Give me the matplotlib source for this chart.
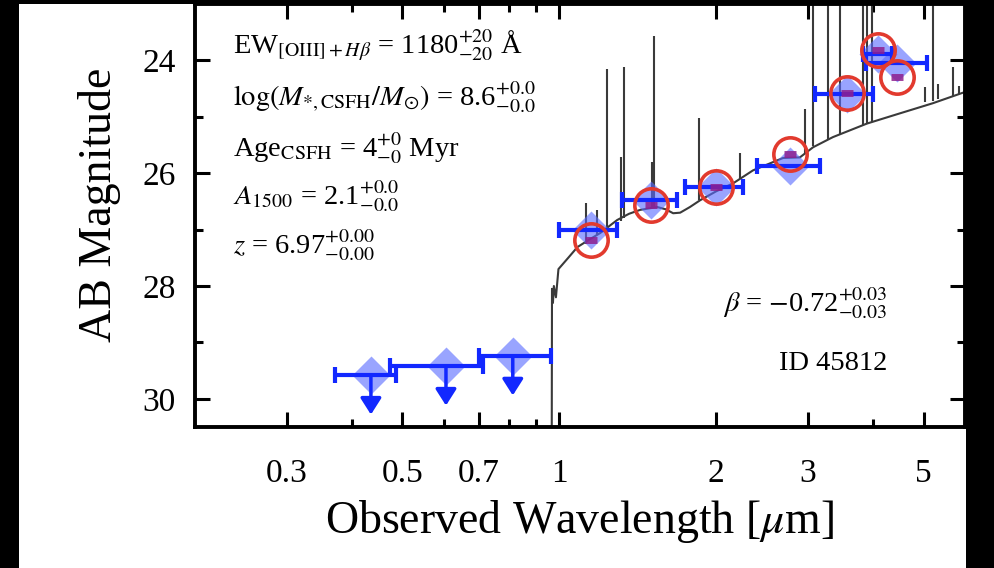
import matplotlib
matplotlib.use("Agg")
import matplotlib.pyplot as plt
from matplotlib.patches import Rectangle
from matplotlib.ticker import FixedLocator, NullFormatter, FixedFormatter

plt.rcParams['font.family'] = 'serif'
plt.rcParams['font.serif'] = ['Liberation Serif', 'DejaVu Serif']
plt.rcParams['mathtext.fontset'] = 'stix'

# model spectrum continuum (um, AB mag)
cont_wl = [0.20, 0.966, 0.968, 0.972, 0.976, 0.985, 0.996, 1.04, 1.083, 1.14, 1.198,
           1.291, 1.36, 1.429, 1.541, 1.60, 1.653, 1.705, 1.78, 1.862, 2.0, 2.154,
           2.352, 2.686, 2.893, 3.067, 3.348, 3.891, 4.497, 5.203, 6.0]
cont_mag = [33.0, 33.0, 28.05, 28.3, 28.0, 28.2, 27.7, 27.5, 27.31, 27.18, 27.06,
            26.83, 26.72, 26.65, 26.6, 26.64, 26.71, 26.70, 26.6, 26.48, 26.32, 26.18,
            25.95, 25.73, 25.72, 25.54, 25.36, 25.12, 24.94, 24.76, 24.56]

# emission lines: wavelength, continuum base, peak
line_wl = [1.127, 1.182, 1.236, 1.315, 1.332, 1.507, 1.520, 1.854, 2.222, 2.959,
           3.066, 3.276, 3.452, 3.822, 3.891, 3.978, 5.02, 5.205, 5.32, 5.686, 5.84]
line_base = [27.25, 27.1, 26.98, 26.84, 26.8, 26.62, 26.62, 26.48, 26.1, 25.65,
             25.52, 25.4, 25.3, 25.15, 25.12, 25.1, 24.74, 24.72, 24.68, 24.63, 24.6]
line_top = [26.53, 26.65, 24.16, 25.72, 24.12, 25.8, 23.56, 25.02, 25.65, 24.86,
            22.5, 22.5, 22.5, 22.5, 22.5, 22.5, 24.48, 22.5, 24.42, 24.12, 24.45]

# photometry
filt_wl = [0.435, 0.606, 0.814, 1.15, 1.50, 2.00, 2.77, 3.57, 4.08, 4.44]
filt_lo = [0.372, 0.474, 0.70, 1.00, 1.32, 1.74, 2.39, 3.09, 3.83, 3.88]
filt_hi = [0.487, 0.715, 0.965, 1.29, 1.68, 2.25, 3.16, 4.00, 4.35, 5.07]
obs_mag = [29.58, 29.42, 29.24, 27.01, 26.48, 26.24, 25.88, 24.60, 23.88, 24.05]
is_limit = [True, True, True, False, False, False, False, False, False, False]
model_mag = [None, None, None, 27.19, 26.57, 26.24, 25.66, 24.58, 23.82, 24.30]

fig = plt.figure(figsize=(9.94, 5.68), dpi=100)
fig.patch.set_facecolor('black')
fig.add_artist(Rectangle((19/994, 0), 947/994, 564/568, transform=fig.transFigure,
                         facecolor='white', edgecolor='none', zorder=-10))
ax = fig.add_axes([195/994, 141/568, 770/994, 423/568])

blue = '#1228ff'
ax.plot(cont_wl, cont_mag, color='#3a3a3a', lw=1.5, zorder=2)
ax.vlines(line_wl, line_base, line_top, color='#3a3a3a', lw=1.5, zorder=2)

for i in range(len(filt_wl)):
    x, m = filt_wl[i], obs_mag[i]
    ax.plot(x, m, 'D', ms=19, color='#5a6cff', alpha=0.62, mec='none', zorder=3)
    ax.errorbar(x, m, xerr=[[x - filt_lo[i]], [filt_hi[i] - x]], fmt='none',
                ecolor=blue, elinewidth=3, capsize=6, capthick=3, zorder=4)
    if is_limit[i]:
        ax.annotate('', xy=(x, m + 0.7), xytext=(x, m),
                    arrowprops=dict(arrowstyle='-|>,head_width=0.35,head_length=0.55',
                                    color=blue, lw=2.5, mutation_scale=18,
                                    shrinkA=0, shrinkB=0), zorder=4)
    else:
        ax.plot(x, model_mag[i], '_', ms=9, mew=5, color='#8e1f8e', alpha=0.85, zorder=5)
        ax.plot(x, model_mag[i], 'o', ms=24, mfc='none', mec='#e23a2e', mew=2.6, zorder=6)

ax.set_xscale('log')
ax.set_xlim(0.2, 6.0)
ax.set_ylim(30.5, 23.0)
ax.xaxis.set_major_locator(FixedLocator([0.3, 0.5, 0.7, 1, 2, 3, 5]))
ax.xaxis.set_major_formatter(FixedFormatter(['0.3', '0.5', '0.7', '1', '2', '3', '5']))
ax.xaxis.set_minor_locator(FixedLocator([0.4, 0.6, 0.8, 0.9, 4]))
ax.xaxis.set_minor_formatter(NullFormatter())
ax.yaxis.set_major_locator(FixedLocator([24, 26, 28, 30]))
ax.yaxis.set_minor_locator(FixedLocator([25, 27, 29]))

ax.tick_params(which='both', direction='in', top=True, right=True, width=2.2)
ax.tick_params(which='major', length=11, labelsize=24)
ax.tick_params(which='minor', length=6)
ax.tick_params(axis='x', which='major', pad=22.5)
ax.tick_params(axis='y', which='major', pad=14)
for sp in ax.spines.values():
    sp.set_linewidth(2.8)

ax.set_xlabel(r'Observed Wavelength [$\mu$m]', fontsize=33, labelpad=7)
ax.set_ylabel('AB Magnitude', fontsize=33)
ax.yaxis.set_label_coords(-0.0955, 0.525)

tk = dict(transform=ax.transAxes, fontsize=20.5, va='baseline')
ax.text(0.049, 0.884, r'EW$_{\mathrm{[OIII]}+H\beta}$ = 1180$^{+20}_{-20}$ Å', **tk)
ax.text(0.049, 0.760, r'$\log(M_{*,\mathrm{CSFH}}/M_{\odot})$ = 8.6$^{+0.0}_{-0.0}$', **tk)
ax.text(0.049, 0.638, r'Age$_{\mathrm{CSFH}}$ = 4$^{+0}_{-0}$ Myr', **tk)
ax.text(0.049, 0.525, r'$A_{1500}$ = 2.1$^{+0.0}_{-0.0}$', **tk)
ax.text(0.049, 0.410, r'$z$ = 6.97$^{+0.00}_{-0.00}$', **tk)
ax.text(0.899, 0.272, r'$\beta$ = $-$0.72$^{+0.03}_{-0.03}$', ha='right', **tk)
ax.text(0.899, 0.135, 'ID 45812', ha='right', **tk)

fig.savefig('out.png', dpi=100, facecolor=fig.get_facecolor())
